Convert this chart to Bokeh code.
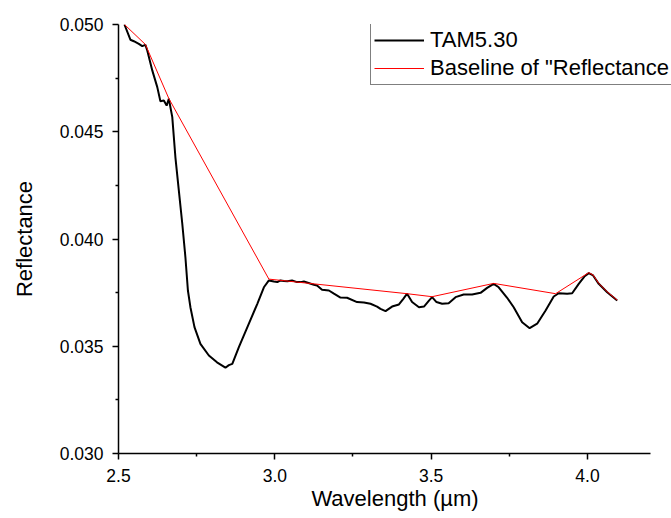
from bokeh.plotting import figure
from bokeh.models import Range1d, Legend, LegendItem, FixedTicker, NumeralTickFormatter
from bokeh.embed import file_html
from bokeh.resources import INLINE

# Spectrum TAM5.30 (wavelength in µm, reflectance)
wl = [2.519, 2.538, 2.549, 2.565, 2.576, 2.586, 2.592, 2.608, 2.624, 2.634, 2.645, 2.654,
      2.661, 2.672, 2.682, 2.693, 2.704, 2.714, 2.722, 2.730, 2.743, 2.762, 2.789, 2.815,
      2.842, 2.853, 2.864, 2.885, 2.917, 2.944, 2.965, 2.981, 2.997, 3.008,
      3.018, 3.029, 3.040, 3.055, 3.071, 3.082, 3.093, 3.125, 3.135, 3.151, 3.173, 3.189,
      3.210, 3.231, 3.263, 3.285, 3.306, 3.327, 3.338, 3.354, 3.375, 3.397, 3.411, 3.423,
      3.439, 3.461, 3.477, 3.493, 3.503, 3.517, 3.535, 3.556, 3.578, 3.604, 3.631, 3.658,
      3.679, 3.700, 3.716, 3.743, 3.764, 3.791, 3.815, 3.839, 3.866, 3.892, 3.908, 3.935,
      3.951, 3.972, 3.990, 4.004, 4.018, 4.036, 4.063, 4.095]
refl = [0.05000, 0.04929, 0.04922, 0.04910, 0.04899, 0.04905, 0.04879, 0.04786, 0.04708,
        0.04642, 0.04646, 0.04622, 0.04654, 0.04568, 0.04381, 0.04226, 0.04071, 0.03915,
        0.03760, 0.03682, 0.03589, 0.03511, 0.03457, 0.03425, 0.03400, 0.03412, 0.03418,
        0.03496, 0.03605, 0.03698, 0.03775, 0.03807, 0.03802, 0.03799,
        0.03807, 0.03804, 0.03803, 0.03807, 0.03799, 0.03799, 0.03802, 0.03787, 0.03783,
        0.03763, 0.03760, 0.03745, 0.03727, 0.03726, 0.03706, 0.03704, 0.03698, 0.03685,
        0.03674, 0.03664, 0.03685, 0.03695, 0.03721, 0.03745, 0.03706, 0.03682, 0.03685,
        0.03713, 0.03729, 0.03706, 0.03698, 0.03701, 0.03729, 0.03741, 0.03741, 0.03749,
        0.03772, 0.03791, 0.03775, 0.03726, 0.03682, 0.03612, 0.03584, 0.03605, 0.03667,
        0.03732, 0.03747, 0.03745, 0.03747, 0.03791, 0.03825, 0.03841, 0.03830, 0.03791,
        0.03752, 0.03713]

# Baseline anchor points
base_wl = [2.519, 2.586, 2.661, 2.981, 3.423, 3.503, 3.700, 3.898, 4.004, 4.018, 4.036, 4.063, 4.095]
base_refl = [0.05000, 0.04907, 0.04655, 0.03813, 0.03745, 0.03731, 0.03793, 0.03745,
             0.03843, 0.03832, 0.03793, 0.03754, 0.03715]

x_ticks = [2.5, 3.0, 3.5, 4.0]
x_minor = [2.75, 3.25, 3.75]
y_ticks = [0.030, 0.035, 0.040, 0.045, 0.050]
y_minor = [0.0325, 0.0375, 0.0425, 0.0475]

FONT = "Liberation Sans"

p = figure(width=671, height=518, output_backend="svg", toolbar_location=None,
           x_range=Range1d(2.5, 4.2687), y_range=Range1d(0.030, 0.050),
           min_border_left=118, min_border_right=0, min_border_top=24, min_border_bottom=65)
p.outline_line_color = None
p.grid.visible = False
p.background_fill_color = "white"

l1 = p.line(wl, refl, line_color="black", line_width=2)
l2 = p.line(base_wl, base_refl, line_color="#ff0000", line_width=1)

for ax in (p.xaxis[0], p.yaxis[0]):
    ax.axis_line_width = 1.5
    ax.axis_line_color = "black"
    ax.major_tick_line_width = 1.5
    ax.minor_tick_line_width = 1.5
    ax.major_tick_in = 0
    ax.major_tick_out = 6
    ax.minor_tick_in = 0
    ax.minor_tick_out = 3
    ax.major_label_text_font = FONT
    ax.major_label_text_font_size = "17.5px"
    ax.major_label_text_color = "black"
    ax.axis_label_text_font = FONT
    ax.axis_label_text_font_size = "22px"
    ax.axis_label_text_font_style = "normal"
    ax.axis_label_text_color = "black"
    ax.major_label_standoff = 9

p.xaxis.bounds = (2.5, 4.2)
p.xaxis.ticker = FixedTicker(ticks=x_ticks, minor_ticks=x_minor)
p.yaxis.ticker = FixedTicker(ticks=y_ticks, minor_ticks=y_minor)
p.xaxis.formatter = NumeralTickFormatter(format="0.0")
p.yaxis.formatter = NumeralTickFormatter(format="0.000")
p.xaxis.axis_label = "Wavelength (µm)"
p.yaxis.axis_label = "Reflectance"
p.xaxis.axis_label_standoff = 1
p.yaxis.axis_label_standoff = 20

legend = Legend(items=[LegendItem(label="TAM5.30", renderers=[l1]),
                       LegendItem(label='Baseline of "Reflectance', renderers=[l2])],
                location=(252, 368))
legend.label_text_font = FONT
legend.label_text_font_size = "22px"
legend.label_text_color = "black"
legend.glyph_width = 50
legend.glyph_height = 22
legend.label_height = 22
legend.label_standoff = 6
legend.spacing = 2
legend.padding = 3
legend.margin = 0
legend.border_line_color = "black"
legend.border_line_width = 1
legend.background_fill_color = "white"
legend.background_fill_alpha = 1
p.add_layout(legend, "center")

open("out.html", "w").write(file_html(p, INLINE))
